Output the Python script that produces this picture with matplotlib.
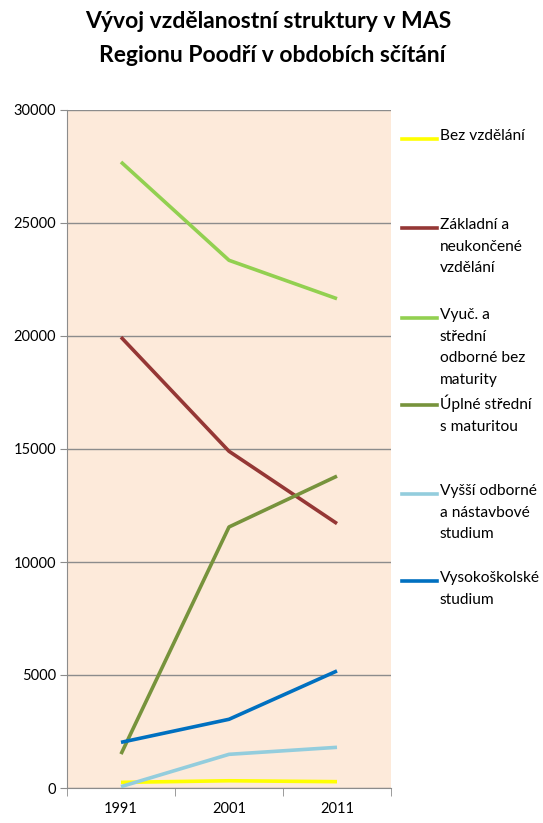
import matplotlib
matplotlib.use("Agg")
from matplotlib import pyplot as plt
from matplotlib.lines import Line2D

plt.rcParams["font.family"] = ["Lato", "DejaVu Sans"]

years = ["1991", "2001", "2011"]

bez_vzdelani = [250, 320, 280]
zakladni = [19950, 14900, 11700]
vyuc_bez_maturity = [27700, 23350, 21650]
uplne_stredni = [1500, 11550, 13800]
vyssi_odborne = [60, 1490, 1800]
vysokoskolske = [2020, 3040, 5180]

labels = [
    "Bez vzdělání",
    "Základní a\nneukončené\nvzdělání",
    "Vyuč. a\nstřední\nodborné bez\nmaturity",
    "Úplné střední\ns maturitou",
    "Vyšší odborné\na nástavbové\nstudium",
    "Vysokoškolské\nstudium",
]
series = [bez_vzdelani, zakladni, vyuc_bez_maturity,
          uplne_stredni, vyssi_odborne, vysokoskolske]
colors = ["#FFFF00", "#953735", "#92D050", "#77933C", "#93CDDD", "#0070C0"]

# legend rows (pixel y of first text line, from top)
legend_y = [139, 228, 318, 405, 494, 581]

W, H = 543, 823
fig = plt.figure(figsize=(W / 100, H / 100), dpi=100)
ax = fig.add_axes([67 / W, 1 - 788 / H, (391 - 67) / W, (788 - 110) / H])
ax.set_facecolor("#FDEADA")

x = list(range(len(years)))
for vals, col in zip(series, colors):
    ax.plot(x, vals, color=col, linewidth=2.6, solid_capstyle="butt", zorder=3)

ax.set_xlim(-0.5, len(years) - 0.5)
ax.set_ylim(0, 30000)
ax.set_yticks(range(0, 30001, 5000))
ax.yaxis.grid(True, color="#8C8C8C", linewidth=1)
ax.set_axisbelow(True)

ax.set_xticks(x)
ax.set_xticklabels(years)
ax.set_xticks([i - 0.5 for i in range(len(years) + 1)], minor=True)
ax.tick_params(axis="x", which="major", length=0, pad=10, labelsize=10.5)
ax.tick_params(axis="x", which="minor", length=6, color="#8C8C8C")
ax.tick_params(axis="y", length=5, color="#8C8C8C", labelsize=10.5, pad=3)

for side in ["top", "right"]:
    ax.spines[side].set_visible(False)
for side in ["left", "bottom"]:
    ax.spines[side].set_color("#8C8C8C")

fig.text(268 / W, 1 - 22 / H, "Vývoj vzdělanostní struktury v MAS",
         ha="center", va="center", fontsize=16.5, fontweight="bold")
fig.text(272 / W, 1 - 55 / H, "Regionu Poodří v obdobích sčítání",
         ha="center", va="center", fontsize=16.5, fontweight="bold")

for lab, col, yy in zip(labels, colors, legend_y):
    fig.add_artist(Line2D([402 / W, 437 / W], [1 - yy / H, 1 - yy / H],
                          color=col, linewidth=2.6, transform=fig.transFigure))
    fig.text(440 / W, 1 - (yy - 10) / H, lab, ha="left", va="top",
             fontsize=11.2, linespacing=1.7)

plt.savefig("out.png", dpi=100)
